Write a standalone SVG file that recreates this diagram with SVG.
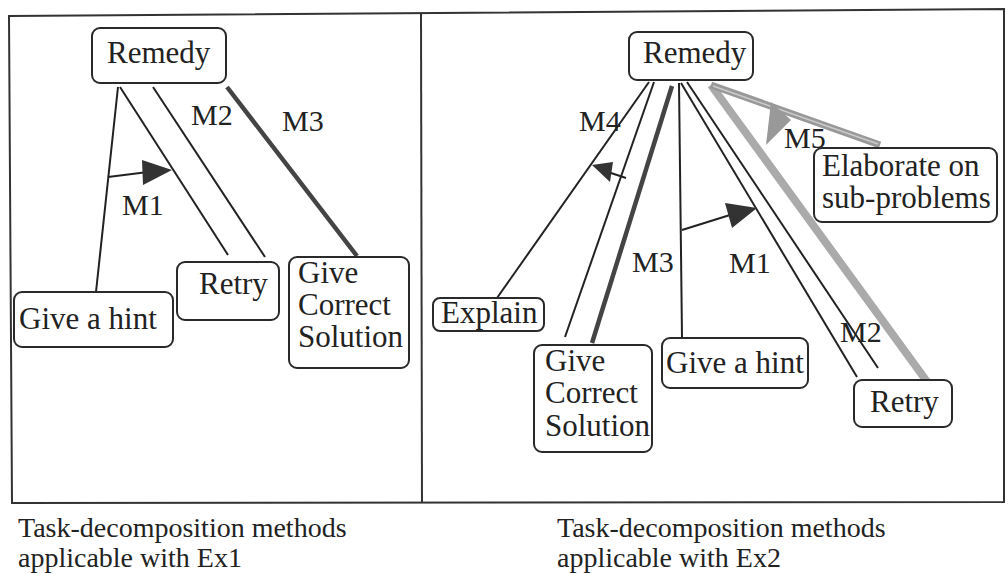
<svg xmlns="http://www.w3.org/2000/svg" width="1008" height="574" viewBox="0 0 1008 574">
<style>
text{font-family:"Liberation Serif","DejaVu Serif","Noto Serif",serif;fill:#222}
.n{font-size:31px}
.lb{font-size:30px}
.cap{font-size:28px}
.box{fill:#fff;stroke:#2a2a2a;stroke-width:2}
.ln{stroke:#222;stroke-width:2;fill:none}
.tk{stroke:#444;stroke-width:4.5;fill:none}
.gr{stroke:#aaa;stroke-width:8;fill:none}
.ah{fill:#333}
</style>
<rect width="1008" height="574" fill="#fff"/>
<g id="frame" fill="none" stroke="#333" stroke-width="2">
<path d="M9,16 L1004,9 L1004,502 L12,503 Z"/>
<line x1="421" y1="13" x2="422" y2="503"/>
</g>
<g id="connectors">
<line class="ln" x1="118" y1="87" x2="96" y2="292"/>
<line class="ln" x1="120" y1="87" x2="228" y2="255"/>
<line class="ln" x1="153" y1="87" x2="265" y2="257"/>
<line class="tk" x1="227" y1="87" x2="357" y2="256"/>
<line class="ln" x1="108" y1="177" x2="148" y2="172"/>
<polygon class="ah" points="172,170 142,160 143,185"/>
<line class="ln" x1="649" y1="82" x2="497" y2="298"/>
<line class="ln" x1="654" y1="82" x2="565" y2="337"/>
<line class="tk" x1="672" y1="86" x2="592" y2="343"/>
<line class="ln" x1="679" y1="83" x2="682" y2="337"/>
<line class="ln" x1="681" y1="83" x2="857" y2="377"/>
<line class="ln" x1="687" y1="82" x2="878" y2="368"/>
<line class="gr" x1="711" y1="85" x2="928" y2="383"/>
<line stroke="#999" stroke-width="7" x1="711" y1="85" x2="880" y2="145"/>
<line stroke="#ccc" stroke-width="1.5" x1="713" y1="86" x2="878" y2="144"/>
<polygon fill="#999" points="771,102 766,145 791,120"/>
<line class="ln" x1="682" y1="230" x2="730" y2="215"/>
<polygon class="ah" points="757,208 725,203 732,228"/>
<line class="ln" x1="626" y1="178" x2="608" y2="172"/>
<polygon class="ah" points="592,165 613,162 610,182"/>
</g>
<g id="l-remedy"><rect class="box" x="92" y="28" width="134" height="55" rx="8"/><text class="n" x="107" y="63">Remedy</text></g>
<g id="l-hint"><rect class="box" x="14" y="292" width="159" height="55" rx="8"/><text class="n" x="19" y="329">Give a hint</text></g>
<g id="l-retry"><rect class="box" x="177" y="262" width="102" height="58" rx="8"/><text class="n" x="199" y="294">Retry</text></g>
<g id="l-solution"><rect class="box" x="289" y="257" width="120" height="111" rx="8"/><text class="n" x="298" y="283">Give</text><text class="n" x="298" y="315">Correct</text><text class="n" x="298" y="347">Solution</text></g>
<g id="l-labels"><text class="lb" x="191" y="125">M2</text><text class="lb" x="282" y="131">M3</text><text class="lb" x="122" y="215">M1</text></g>
<g id="r-remedy"><rect class="box" x="629" y="32" width="124" height="48" rx="8"/><text class="n" x="643" y="63">Remedy</text></g>
<g id="r-elaborate"><rect class="box" x="814" y="148" width="183" height="74" rx="8"/><text class="n" x="822" y="176">Elaborate on</text><text class="n" x="822" y="208">sub-problems</text></g>
<g id="r-explain"><rect class="box" x="433" y="298" width="111" height="33" rx="7"/><text class="n" x="441" y="323">Explain</text></g>
<g id="r-solution"><rect class="box" x="534" y="345" width="118" height="107" rx="8"/><text class="n" x="545" y="371">Give</text><text class="n" x="545" y="403">Correct</text><text class="n" x="545" y="436">Solution</text></g>
<g id="r-hint"><rect class="box" x="662" y="338" width="146" height="50" rx="8"/><text class="n" x="666" y="373">Give a hint</text></g>
<g id="r-retry"><rect class="box" x="854" y="380" width="98" height="47" rx="8"/><text class="n" x="870" y="412">Retry</text></g>
<g id="r-labels"><text class="lb" x="579" y="131">M4</text><text class="lb" x="632" y="272">M3</text><text class="lb" x="729" y="273">M1</text><text class="lb" x="840" y="342">M2</text><text class="lb" x="784" y="148">M5</text></g>
<g id="captions"><text class="cap" x="18" y="537">Task-decomposition methods</text><text class="cap" x="18" y="567">applicable with Ex1</text><text class="cap" x="557" y="537">Task-decomposition methods</text><text class="cap" x="557" y="567">applicable with Ex2</text></g>
</svg>
